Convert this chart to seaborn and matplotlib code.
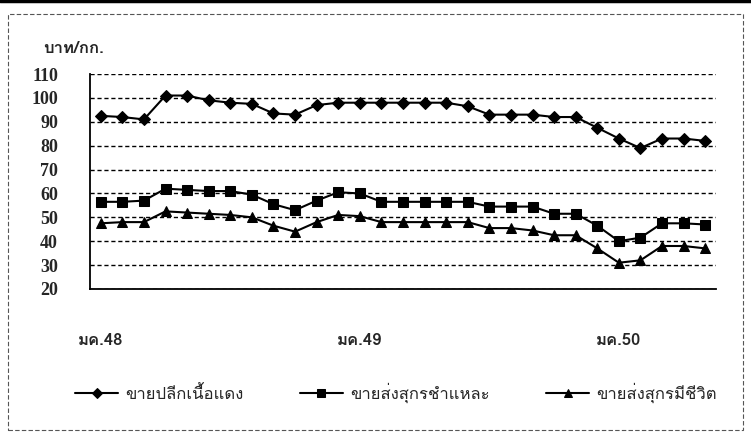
import numpy as np
import pandas as pd
import matplotlib
matplotlib.use("Agg")
from matplotlib import pyplot as plt
from matplotlib import font_manager
from matplotlib.ft2font import FT2Font
import seaborn as sns

# monthly prices, Jan 2548 .. May 2550 (baht/kg)
months = list(range(29))
retail_meat = [92.5, 92, 91, 101, 101, 99, 98, 97.5, 93.5, 93, 97, 98,
               98, 98, 98, 98, 98, 96.5, 93, 93, 93, 92, 92, 87.5,
               83, 79, 83, 83, 82]
wholesale_carcass = [56.5, 56.5, 57, 62, 61.5, 61, 61, 59.5, 55.5, 53, 57, 60.5,
                     60, 56.5, 56.5, 56.5, 56.5, 56.5, 54.5, 54.5, 54.5, 51.5, 51.5, 46.5,
                     40, 41.5, 47.5, 47.5, 47]
wholesale_live = [47.5, 48, 48, 52.5, 52, 51.5, 51, 50, 46.5, 44, 48, 51,
                  50.5, 48, 48, 48, 48, 48, 45.5, 45.5, 44.5, 42.5, 42.5, 37,
                  31, 32, 38, 38, 37]
series_names = ['ขายปลีกเนื้อแดง', 'ขายส่งสุกรชำแหละ', 'ขายส่งสุกรมีชีวิต']
xtick_pos = [0, 12, 24]
xtick_labels = ['มค.48', 'มค.49', 'มค.50']
yticks = list(range(20, 111, 10))
ylabel = 'บาท/กก.'


def thai_font():
    """find an installed font that has thai glyphs, else None"""
    for f in font_manager.fontManager.ttflist:
        try:
            if 0x0E02 in FT2Font(f.fname).get_charmap():
                return f.name
        except Exception:
            pass
    return None


sns.set_style("white")
th = thai_font()
fams = ([th] if th else []) + ['Liberation Serif', 'DejaVu Sans']
plt.rcParams['font.family'] = fams

df = pd.DataFrame({
    'month': months * 3,
    'price': retail_meat + wholesale_carcass + wholesale_live,
    'series': [series_names[0]] * 29 + [series_names[1]] * 29 + [series_names[2]] * 29,
})

fig = plt.figure(figsize=(7.51, 4.33), dpi=100)
ax = fig.add_axes([0.1198, 0.3326, 0.8336, 0.4964])

sns.lineplot(data=df, x='month', y='price', hue='series', style='series',
             palette=['black'] * 3, dashes=False, markers=['D', 's', '^'],
             markersize=6.5, linewidth=1.5, markeredgecolor='black', ax=ax)

ax.set_xlim(-0.5, 28.5)
ax.set_ylim(20, 110)
ax.set_yticks(yticks)
ax.set_yticklabels([str(v) for v in yticks], fontsize=13, fontweight='bold',
                   family=['Liberation Serif', 'DejaVu Sans'])
ax.set_xticks(xtick_pos)
ax.set_xticklabels(xtick_labels, fontsize=12, fontweight='bold')
ax.set_xticks([-0.5, 11.5, 23.5], minor=True)
ax.tick_params(axis='x', which='major', length=0, pad=32)
ax.tick_params(axis='x', which='minor', length=8, width=1, color='black', direction='out')
ax.tick_params(axis='y', length=5, width=1, color='black', direction='out', pad=18)
ax.yaxis.grid(True, color='black', linestyle=(0, (3, 2)), linewidth=1)
ax.set_xlabel('')
ax.set_ylabel('')
for s in ['top', 'right']:
    ax.spines[s].set_visible(False)
for s in ['left', 'bottom']:
    ax.spines[s].set_color('black')
    ax.spines[s].set_linewidth(1.3)

fig.text(0.057, 0.887, ylabel, fontsize=12, fontweight='bold', va='center', ha='left')

handles, labels = ax.get_legend_handles_labels()
ax.legend_.remove()
for h in handles:
    h.set_markersize(5.5)
fig.legend(handles, labels, loc='center', bbox_to_anchor=(0.527, 0.093), ncol=3,
           frameon=False, fontsize=12, handlelength=2.6, columnspacing=3.4, handletextpad=0.4)

# outer dashed frame and top bar like the scanned page
fig.add_artist(plt.Rectangle((0.011, 0.008), 0.978, 0.96, transform=fig.transFigure,
                             fill=False, edgecolor='#555555', linewidth=0.8, linestyle=(0, (4, 2))))
fig.add_artist(plt.Line2D([0, 1], [0.997, 0.997], transform=fig.transFigure,
                          color='black', linewidth=2.5))

fig.savefig('out.png', dpi=100)
